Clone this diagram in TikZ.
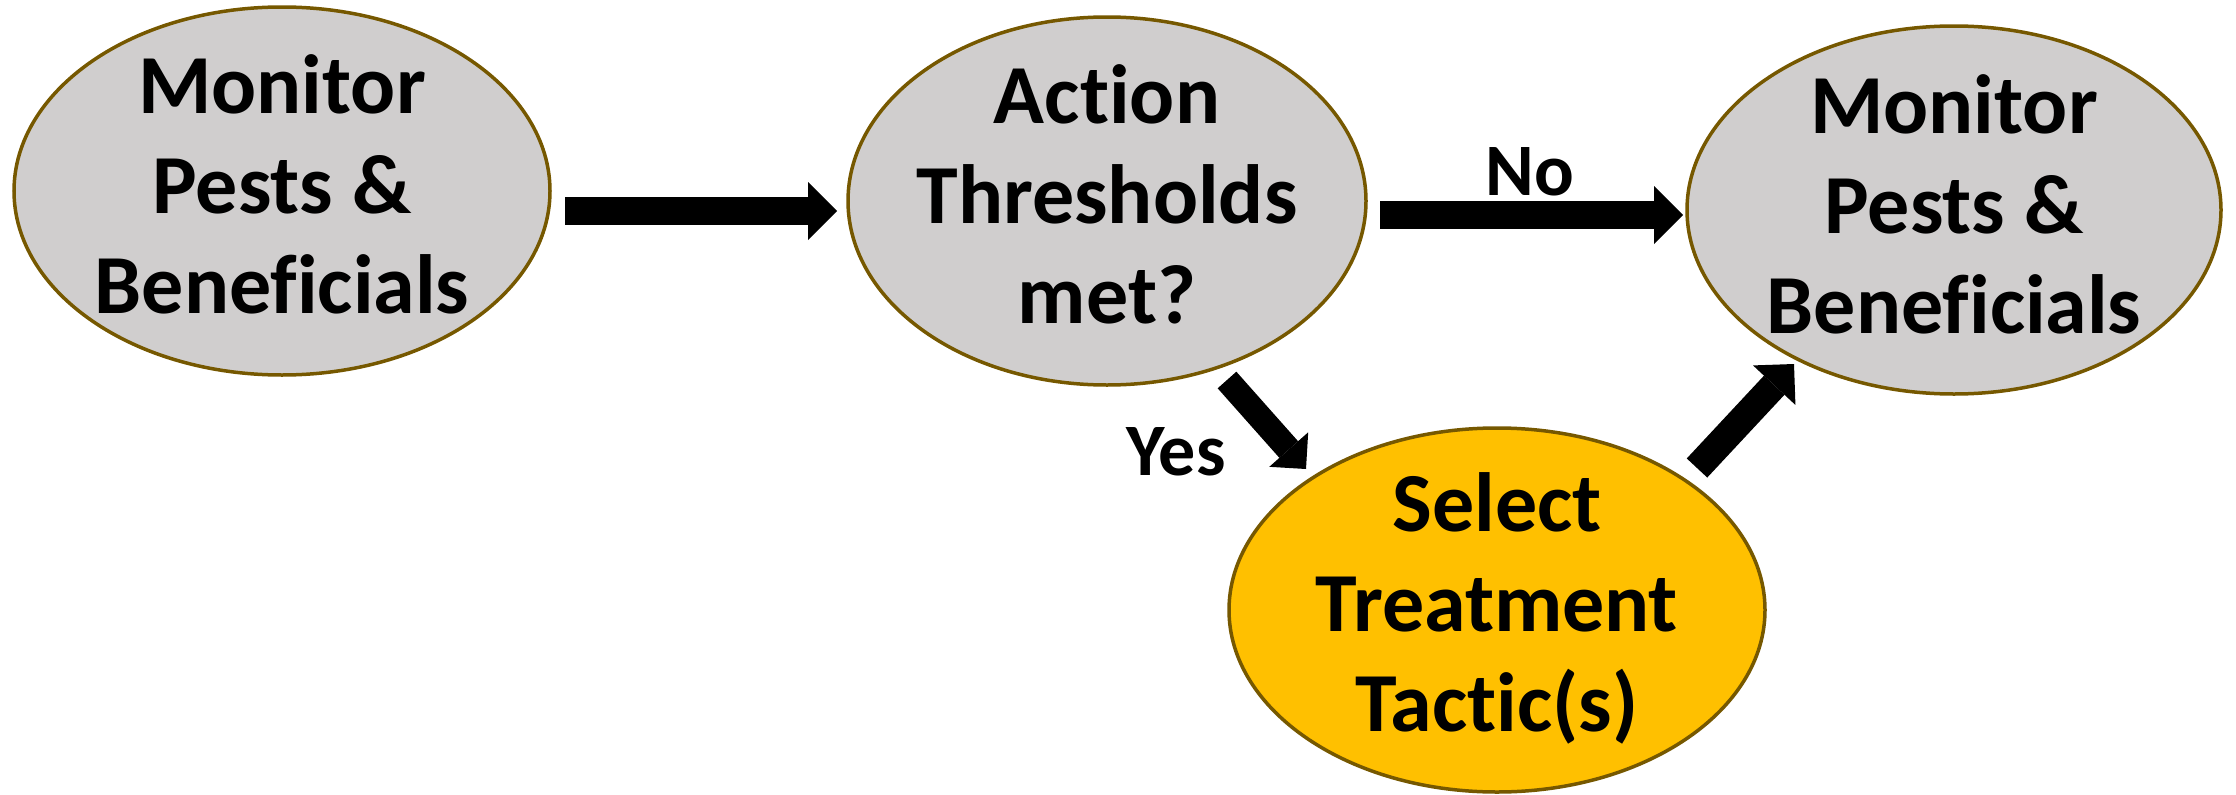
\documentclass[tikz,border=0pt]{standalone}
\usepackage{fontspec}
\setmainfont[Ligatures=NoCommon]{Carlito}
\usetikzlibrary{shapes.geometric,arrows.meta}
\definecolor{ovgray}{RGB}{208,206,206}
\definecolor{ovedge}{RGB}{118,88,0}
\definecolor{ovgold}{RGB}{255,192,0}
\begin{document}
\begin{tikzpicture}[x=1pt,y=-1pt,
  oval/.style={ellipse,draw=ovedge,line width=3.5pt,inner sep=0pt},
  txt/.style={align=center,inner sep=0pt,font=\fontsize{84}{100}\selectfont\bfseries},
  lbl/.style={inner sep=0pt,font=\fontsize{74}{88}\selectfont\bfseries},
  bigarrow/.style={line width=28pt,-{Triangle[length=29pt,width=58pt,line width=0pt]}},
  diagarrow/.style={line width=25pt,-{Triangle[length=26pt,width=52pt,line width=0pt]}}]
\useasboundingbox (0,0) rectangle (2236,795);
\node[oval,fill=ovgray,minimum width=536pt,minimum height=368pt] (e1) at (282,191) {};
\node[oval,fill=ovgray,minimum width=518pt,minimum height=368pt] (e2) at (1107,201) {};
\node[oval,fill=ovgray,minimum width=534pt,minimum height=368pt] (e3) at (1954,210) {};
\node[oval,fill=ovgold,minimum width=536pt,minimum height=364pt] (e4) at (1497,610) {};
\node[txt] (t1) at (282,184) {Monitor\\Pests \&\\Beneficials};
\node[txt] (t2) at (1107,194) {Action\\Thresholds\\met?};
\node[txt] (t3) at (1954,204) {Monitor\\Pests \&\\Beneficials};
\node[txt] (t4) at (1497,608) {Select\\Treatment\\Tactic(s)};
\coordinate (a1s) at (565,211);
\coordinate (a1e) at (837,211);
\coordinate (a2s) at (1380,215);
\coordinate (a2e) at (1683,215);
\coordinate (a3s) at (1227,380);
\coordinate (a3e) at (1306,469);
\coordinate (a4s) at (1697,468);
\coordinate (a4e) at (1794,364);
\draw[bigarrow] (a1s) -- (a1e);
\draw[bigarrow] (a2s) -- (a2e);
\draw[diagarrow] (a3s) -- (a3e);
\draw[bigarrow] (a4s) -- (a4e);
\node[lbl,anchor=base] (no) at (1530,195) {No};
\node[lbl,anchor=base] (yes) at (1176,475) {Yes};
\end{tikzpicture}
\end{document}
